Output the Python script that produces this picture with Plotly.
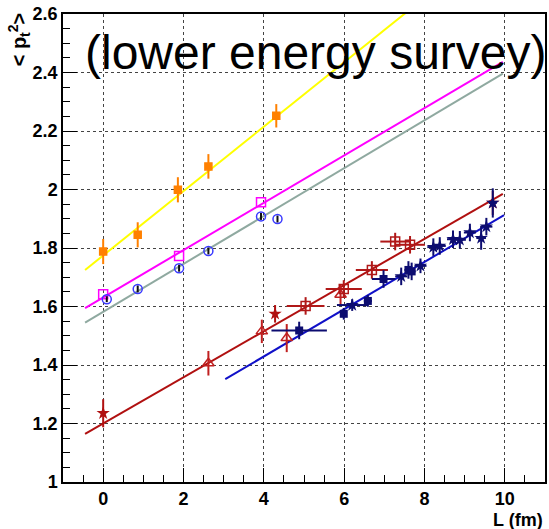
import plotly.graph_objects as go
import numpy as np

# ---------------- data ----------------
# fit lines: (intercept at L=0, slope, L_min, L_max)
fit_yellow = [1.7745, 0.1101, -0.45, 9.95]
fit_magenta = [1.631, 0.0809, -0.45, 9.95]
fit_gray = [1.582, 0.0818, -0.45, 9.95]
fit_red = [1.200, 0.0789, -0.45, 9.95]
fit_blue = [1.106, 0.0808, 3.04, 9.98]

orange_L = [0.0, 0.86, 1.86, 2.62, 4.31]
orange_pt = [1.788, 1.845, 1.999, 2.079, 2.252]
orange_err = [0.043, 0.043, 0.043, 0.042, 0.04]

magenta_L = [0.0, 1.89, 3.93]
magenta_pt = [1.642, 1.773, 1.956]

circle_L = [0.09, 0.86, 1.89, 2.62, 3.93, 4.34]
circle_pt = [1.625, 1.66, 1.731, 1.79, 1.908, 1.899]
circle_err = [0.01, 0.012, 0.012, 0.012, 0.012, 0.012]

red_star_L = [0.0, 4.28, 9.7]
red_star_pt = [1.235, 1.575, 1.954]
red_star_err = [0.048, 0.03, 0.041]

red_tri_L = [2.62, 3.95, 4.57, 5.91]
red_tri_pt = [1.406, 1.515, 1.492, 1.64]
red_tri_err = [0.042, 0.04, 0.048, 0.037]

red_sq_L = [5.04, 5.99, 6.69, 7.27, 7.64]
red_sq_pt = [1.602, 1.66, 1.725, 1.822, 1.811]
red_sq_xerr = [0.47, 0.45, 0.40, 0.37, 0.37]
red_sq_yerr = [0.03, 0.03, 0.03, 0.03, 0.03]

navy_sq_L = [4.88, 5.99, 6.59, 6.98, 7.60, 7.68]
navy_sq_pt = [1.518, 1.575, 1.619, 1.694, 1.725, 1.72]
navy_sq_xerr = [0.69, 0.0, 0.10, 0.29, 0.10, 0.10]
navy_sq_yerr = [0.03, 0.02, 0.02, 0.03, 0.03, 0.03]

navy_star_L = [6.2, 7.42, 7.9, 8.22, 8.38, 8.71, 8.88, 9.13, 9.41, 9.54, 9.7]
navy_star_pt = [1.605, 1.703, 1.739, 1.803, 1.807, 1.83, 1.828, 1.853, 1.834, 1.873, 1.954]
navy_star_xerr = [0.38, 0.15, 0.15, 0.15, 0.15, 0.15, 0.15, 0.15, 0.12, 0.15, 0.1]
navy_star_yerr = [0.02, 0.03, 0.025, 0.03, 0.03, 0.03, 0.03, 0.03, 0.04, 0.03, 0.05]

x_ticks = [0, 2, 4, 6, 8, 10]
y_ticks = [1, 1.2, 1.4, 1.6, 1.8, 2, 2.2, 2.4, 2.6]

title_text = "(lower energy survey)"
x_title = "L (fm)"
y_title = "< p<sub>t</sub><sup>2</sup>>"

# ---------------- figure ----------------
fig = go.Figure()


def add_fit(p, color):
    xs = np.linspace(p[2], p[3], 50)
    fig.add_trace(go.Scatter(x=xs, y=p[0] + p[1] * xs, mode="lines",
                             line=dict(color=color, width=2), hoverinfo="skip"))


add_fit(fit_yellow, "#ffff00")
add_fit(fit_magenta, "#ff00ff")
add_fit(fit_gray, "#8fa9a0")
add_fit(fit_red, "#b01010")
add_fit(fit_blue, "#1010c8")


def add_pts(x, y, color, symbol, size, yerr=None, xerr=None, errcolor=None, lw=1.5):
    ec = errcolor or color
    kw = {}
    if yerr is not None:
        kw["error_y"] = dict(type="data", array=yerr, symmetric=True, color=ec, thickness=2, width=0)
    if xerr is not None:
        kw["error_x"] = dict(type="data", array=xerr, symmetric=True, color=ec, thickness=2, width=0)
    fig.add_trace(go.Scatter(x=x, y=y, mode="markers",
                             marker=dict(color=color, symbol=symbol, size=size,
                                         line=dict(color=color, width=lw)),
                             **kw))


add_pts(orange_L, orange_pt, "#ff8000", "square", 7, yerr=orange_err)
add_pts(magenta_L, magenta_pt, "#ff00ff", "square-open", 9)
add_pts(circle_L, circle_pt, "#3a3aff", "circle-open", 9, yerr=circle_err, errcolor="#101010")
add_pts(red_tri_L, red_tri_pt, "#c02020", "triangle-up-open", 10, yerr=red_tri_err)
add_pts(red_sq_L, red_sq_pt, "#b01818", "square-open", 9, yerr=red_sq_yerr, xerr=red_sq_xerr)
add_pts(red_star_L, red_star_pt, "#b01010", "star", 10, yerr=red_star_err, lw=0)
add_pts(navy_sq_L, navy_sq_pt, "#0c0c70", "square", 8, yerr=navy_sq_yerr, xerr=navy_sq_xerr, lw=0)
add_pts(navy_star_L, navy_star_pt, "#0c0c70", "star", 10, yerr=navy_star_yerr, xerr=navy_star_xerr, lw=0)

tickfont = dict(family="Liberation Sans, Arial, sans-serif", size=18, color="black")

fig.update_layout(
    width=549, height=529,
    margin=dict(l=63, r=2, t=14, b=47),
    paper_bgcolor="white", plot_bgcolor="white",
    showlegend=False,
    xaxis=dict(range=[-1, 11], tickvals=x_ticks, ticktext=[f"<b>{t}</b>" for t in x_ticks],
               ticks="inside", ticklen=14, tickwidth=1, tickcolor="black",
               minor=dict(dtick=0.5, tick0=0, ticks="inside", ticklen=7, tickcolor="black", showgrid=False),
               showgrid=True, gridcolor="#444444", griddash="dot", gridwidth=1,
               showline=True, linecolor="black", linewidth=1.5, mirror=True,
               zeroline=False, tickfont=tickfont),
    yaxis=dict(range=[1, 2.6], tickvals=y_ticks, ticktext=[f"<b>{t:g}</b>" for t in y_ticks],
               ticks="inside", ticklen=14, tickwidth=1, tickcolor="black",
               minor=dict(dtick=0.05, tick0=1, ticks="inside", ticklen=7, tickcolor="black", showgrid=False),
               showgrid=True, gridcolor="#444444", griddash="dot", gridwidth=1,
               showline=True, linecolor="black", linewidth=1.5, mirror=True,
               zeroline=False, tickfont=tickfont),
)

fig.add_annotation(text=title_text, xref="paper", yref="paper", x=0.041, y=0.918,
                   xanchor="left", yanchor="middle", showarrow=False,
                   font=dict(family="Liberation Sans, Arial, sans-serif", size=48, color="black"))
fig.add_annotation(text=f"<b>{x_title}</b>", xref="paper", yref="paper", x=1.0, y=-0.081,
                   xanchor="right", yanchor="middle", showarrow=False,
                   font=dict(family="Liberation Sans, Arial, sans-serif", size=18, color="black"))
fig.add_annotation(text=f"<b>{y_title}</b>", xref="paper", yref="paper", x=-0.09, y=0.945,
                   xanchor="center", yanchor="middle", showarrow=False, textangle=-90,
                   font=dict(family="Liberation Sans, Arial, sans-serif", size=20, color="black"))

fig.write_html("out.html")
